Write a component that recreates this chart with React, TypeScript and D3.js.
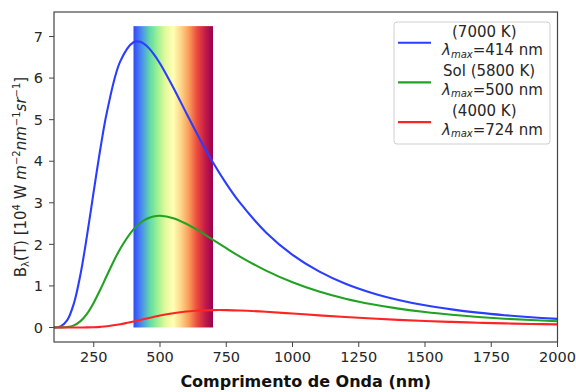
import { useEffect } from "react";
import * as d3 from "d3";

// wavelengths (nm)
const wavelengths = [100, 125, 150, 175, 200, 225, 250, 275, 300, 350, 400, 425, 450, 475, 500, 550, 600, 650, 700, 750, 800, 900, 1000, 1100, 1200, 1300, 1400, 1500, 1600, 1700, 1800, 1900, 2000];

// spectral radiance, 10^4 W m^-2 nm^-1 sr^-1
const b7000 = [0.001, 0.028, 0.176, 0.576, 1.281, 2.227, 3.279, 4.3, 5.191, 6.402, 6.863, 6.872, 6.772, 6.59, 6.352, 5.775, 5.149, 4.537, 3.971, 3.463, 3.015, 2.288, 1.749, 1.35, 1.053, 0.831, 0.663, 0.534, 0.435, 0.357, 0.296, 0.247, 0.207];
const b5800 = [0.0, 0.001, 0.01, 0.051, 0.153, 0.336, 0.598, 0.915, 1.257, 1.896, 2.361, 2.514, 2.615, 2.671, 2.688, 2.631, 2.492, 2.31, 2.109, 1.907, 1.713, 1.368, 1.088, 0.866, 0.693, 0.559, 0.454, 0.371, 0.306, 0.254, 0.212, 0.179, 0.152];
const b4000 = [0.0, 0.0, 0.0, 0.0, 0.001, 0.002, 0.007, 0.016, 0.03, 0.078, 0.145, 0.181, 0.218, 0.253, 0.287, 0.342, 0.383, 0.407, 0.418, 0.418, 0.41, 0.378, 0.336, 0.292, 0.251, 0.215, 0.184, 0.157, 0.134, 0.115, 0.099, 0.085, 0.074];

const xTicks = [250, 500, 750, 1000, 1250, 1500, 1750, 2000];
const yTicks = [0, 1, 2, 3, 4, 5, 6, 7];

const series = [
  { name: "(7000 K)", peak: "414", color: "#2b3dff", values: b7000, dx: 10 },
  { name: "Sol (5800 K)", peak: "500", color: "#22a222", values: b5800, dx: 1 },
  { name: "(4000 K)", peak: "724", color: "#ff2424", values: b4000, dx: 10 },
];

// visible band drawn as a gradient
const visibleBand = [400, 700, 7.25];
const bandColors = ["#3048f6", "#4a8cf0", "#5ed8a8", "#9cf092", "#e4f89c", "#ffffb4", "#fdd486", "#f99a58", "#ec4a3e", "#c41c48", "#9a0050"];

const W = 576;
const H = 392;
const margin = { left: 54, right: 18.5, top: 12, bottom: 50 };

export default function App() {
  useEffect(() => {
    document.body.style.margin = "0";
  }, []);

  const x = d3.scaleLinear().domain([100, 2000]).range([margin.left, W - margin.right]);
  const y = d3.scaleLinear().domain([-0.349, 7.59]).range([H - margin.bottom, margin.top]);

  const line = d3
    .line<number>()
    .x((_, i) => x(wavelengths[i]))
    .y((d) => y(d))
    .curve(d3.curveCatmullRom);

  const font = "DejaVu Sans, sans-serif";
  const legendX = 394;
  const legendY = 22;

  return (
    <svg width={W} height={H} style={{ position: "absolute", left: 0, top: 0 }} fontFamily={font}>
      <defs>
        <linearGradient id="spec" x1="0" x2="1" y1="0" y2="0">
          {bandColors.map((c, i) => (
            <stop key={i} offset={i / (bandColors.length - 1)} stopColor={c} />
          ))}
        </linearGradient>
        <clipPath id="plot">
          <rect x={margin.left} y={margin.top} width={W - margin.left - margin.right} height={H - margin.top - margin.bottom} />
        </clipPath>
      </defs>
      <rect width={W} height={H} fill="#fff" />

      <rect
        x={x(visibleBand[0])}
        y={y(visibleBand[2])}
        width={x(visibleBand[1]) - x(visibleBand[0])}
        height={y(0) - y(visibleBand[2])}
        fill="url(#spec)"
      />

      <g clipPath="url(#plot)">
        {series.map((s) => (
          <path key={s.name} d={line(s.values) || ""} fill="none" stroke={s.color} strokeWidth={2.1} />
        ))}
      </g>

      {/* spines */}
      <rect
        x={margin.left}
        y={margin.top}
        width={W - margin.left - margin.right}
        height={H - margin.top - margin.bottom}
        fill="none"
        stroke="#444"
        strokeWidth={1.2}
      />

      {/* x axis */}
      {xTicks.map((t) => (
        <g key={t} transform={`translate(${x(t)},${H - margin.bottom})`}>
          <line y2={5} stroke="#444" />
          <text y={20} textAnchor="middle" fontSize={14.5} fill="#262626">
            {t}
          </text>
        </g>
      ))}
      {/* y axis */}
      {yTicks.map((t) => (
        <g key={t} transform={`translate(${margin.left},${y(t)})`}>
          <line x2={-5} stroke="#444" />
          <text x={-11} dy="0.36em" textAnchor="end" fontSize={14.5} fill="#262626">
            {t}
          </text>
        </g>
      ))}

      <text x={(margin.left + W - margin.right) / 2} y={387} textAnchor="middle" fontSize={16} fontWeight="bold" fill="#111">
        Comprimento de Onda (nm)
      </text>

      <text transform={`translate(26,${(margin.top + H - margin.bottom) / 2}) rotate(-90)`} textAnchor="middle" fontSize={15} fill="#262626">
        B<tspan fontSize={10} dy={3}>λ</tspan>
        <tspan dy={-3}>(T) [10</tspan>
        <tspan fontSize={10} dy={-6}>4</tspan>
        <tspan dy={6}> W </tspan>
        <tspan fontStyle="italic">m</tspan>
        <tspan fontSize={10} dy={-6}>−2</tspan>
        <tspan fontStyle="italic" dy={6}>nm</tspan>
        <tspan fontSize={10} dy={-6}>−1</tspan>
        <tspan fontStyle="italic" dy={6}>sr</tspan>
        <tspan fontSize={10} dy={-6}>−1</tspan>
        <tspan dy={6}>]</tspan>
      </text>

      {/* legend */}
      <rect x={legendX} y={legendY} width={156} height={122} rx={3} fill="#fff" fillOpacity={0.85} stroke="#d0d0d0" />
      {series.map((s, i) => {
        const cy = legendY + 20.7 + i * 39.7;
        return (
          <g key={s.name}>
            <line x1={legendX + 4} x2={legendX + 37} y1={cy} y2={cy} stroke={s.color} strokeWidth={2.1} />
            <text x={legendX + 48 + s.dx} y={cy - 6} fontSize={15} fill="#262626">
              {s.name}
            </text>
            <text x={legendX + 48} y={cy + 12.5} fontSize={15} fill="#262626">
              <tspan fontStyle="italic">λ</tspan>
              <tspan fontSize={10} fontStyle="italic" dy={2.5}>max</tspan>
              <tspan dy={-2.5}>={s.peak} nm</tspan>
            </text>
          </g>
        );
      })}
    </svg>
  );
}
